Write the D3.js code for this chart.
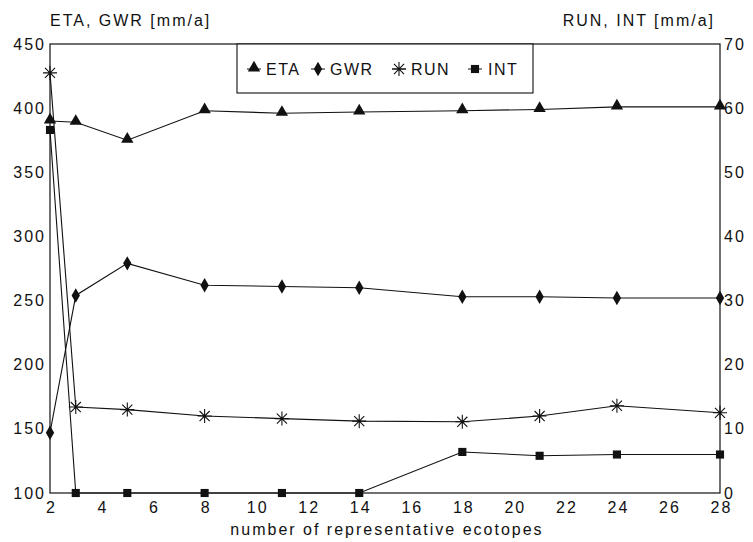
<!DOCTYPE html>
<html lang="en">
<head>
<meta charset="UTF-8">
<script src="https://d3js.org/d3.v7.min.js"></script>
<style>
    body { margin: 0; background: #fff; }
    svg { display: block; font-family: "Liberation Sans", Arial, Helvetica, sans-serif; }
    .tick-label { font-size: 16px; letter-spacing: 2px; fill: #111; }
    .title { font-size: 16px; letter-spacing: 2px; fill: #111; }
    .legend { font-size: 16px; letter-spacing: 1.5px; fill: #111; }
    .series { fill: none; stroke: #111; stroke-width: 1.1px; }
</style>
</head>
<body>
<svg id="chart" width="753" height="542"></svg>
<script>
// data
const ecotopes = [2, 3, 5, 8, 11, 14, 18, 21, 24, 28];
const eta = [390, 389, 375, 398, 396, 397, 398, 399, 401, 401];
const gwr = [147, 254, 279, 262, 261, 260, 253, 253, 252, 252];
const run = [65.5, 13.4, 13.0, 12.0, 11.6, 11.2, 11.1, 12.0, 13.6, 12.5];
const int = [56.6, 0, 0, 0, 0, 0, 6.4, 5.8, 6.0, 6.0];

const xTicks = [2, 4, 6, 8, 10, 12, 14, 16, 18, 20, 22, 24, 26, 28];
const leftTicks = [100, 150, 200, 250, 300, 350, 400, 450];
const rightTicks = [0, 10, 20, 30, 40, 50, 60, 70];

const svg = d3.select("#chart");
const plotL = 50, plotR = 720, plotT = 44, plotB = 493;

const x = d3.scaleLinear().domain([2, 28]).range([plotL, plotR]);
const yL = d3.scaleLinear().domain([100, 450]).range([plotB, plotT]);
const yR = d3.scaleLinear().domain([0, 70]).range([plotB, plotT]);

//frame
svg.append("rect")
    .attr("x", plotL).attr("y", plotT)
    .attr("width", plotR - plotL).attr("height", plotB - plotT)
    .attr("fill", "none").attr("stroke", "#111").attr("stroke-width", 1.2);

//axes (labels only, no tick marks)
const axB = svg.append("g").attr("transform", `translate(1,${plotB})`)
    .call(d3.axisBottom(x).tickValues(xTicks).tickSize(0).tickPadding(9));
const axL = svg.append("g").attr("transform", `translate(${plotL},0)`)
    .call(d3.axisLeft(yL).tickValues(leftTicks).tickSize(0).tickPadding(4));
const axR = svg.append("g").attr("transform", `translate(${plotR},0)`)
    .call(d3.axisRight(yR).tickValues(rightTicks).tickSize(0).tickPadding(4));
[axB, axL, axR].forEach(a => {
    a.attr("font-family", null).attr("font-size", null);
    a.select(".domain").remove();
    a.selectAll("text").attr("class", "tick-label").attr("fill", null);
});

//titles
svg.append("text").attr("class", "title").attr("x", 50).attr("y", 26).text("ETA, GWR [mm/a]");
svg.append("text").attr("class", "title").attr("x", 715).attr("y", 26)
    .attr("text-anchor", "end").text("RUN, INT [mm/a]");
svg.append("text").attr("class", "title").attr("x", (plotL + plotR) / 2 + 2).attr("y", 535)
    .attr("text-anchor", "middle").text("number of representative ecotopes");

//markers
const sym = {
    tri: d3.symbol().type(d3.symbolTriangle).size(66),
    dia: d3.symbol().type(d3.symbolDiamond).size(60),
    sq: d3.symbol().type(d3.symbolSquare).size(66)
};
function drawMarker(g, kind, cx, cy) {
    if (kind === "ast") {
        const r = 7;
        g.append("path")
            .attr("d", `M${cx - r},${cy}H${cx + r}M${cx},${cy - r}V${cy + r}` +
                `M${cx - r * 0.72},${cy - r * 0.72}L${cx + r * 0.72},${cy + r * 0.72}` +
                `M${cx - r * 0.72},${cy + r * 0.72}L${cx + r * 0.72},${cy - r * 0.72}`)
            .attr("stroke", "#111").attr("stroke-width", 1.1).attr("fill", "none");
    } else {
        const dy = kind === "tri" ? -1 : 0;
        g.append("path").attr("d", sym[kind]())
            .attr("transform", `translate(${cx},${cy + dy})`)
            .attr("fill", "#111");
    }
}

const series = [
    { name: "ETA", vals: eta, y: yL, kind: "tri" },
    { name: "GWR", vals: gwr, y: yL, kind: "dia" },
    { name: "RUN", vals: run, y: yR, kind: "ast" },
    { name: "INT", vals: int, y: yR, kind: "sq" }
];

series.forEach(s => {
    const g = svg.append("g");
    const line = d3.line().x((d, i) => x(ecotopes[i])).y(d => s.y(d));
    g.append("path").datum(s.vals).attr("class", "series").attr("d", line);
    s.vals.forEach((v, i) => drawMarker(g, s.kind, x(ecotopes[i]), s.y(v)));
});

//legend
const lg = svg.append("g");
lg.append("rect").attr("x", 237).attr("y", plotT).attr("width", 296).attr("height", 49)
    .attr("fill", "#fff").attr("stroke", "#111").attr("stroke-width", 1.1);
const legendPos = [254, 318, 399, 475];
const legendText = [266, 330, 411, 488];
series.forEach((s, i) => {
    const lx = legendPos[i];
    lg.append("line").attr("x1", lx - 7).attr("x2", lx + 7).attr("y1", 69).attr("y2", 69)
        .attr("stroke", "#111").attr("stroke-width", 1);
    drawMarker(lg, s.kind, lx, 69);
    lg.append("text").attr("class", "legend").attr("x", legendText[i]).attr("y", 75).text(s.name);
});
</script>
</body>
</html>
